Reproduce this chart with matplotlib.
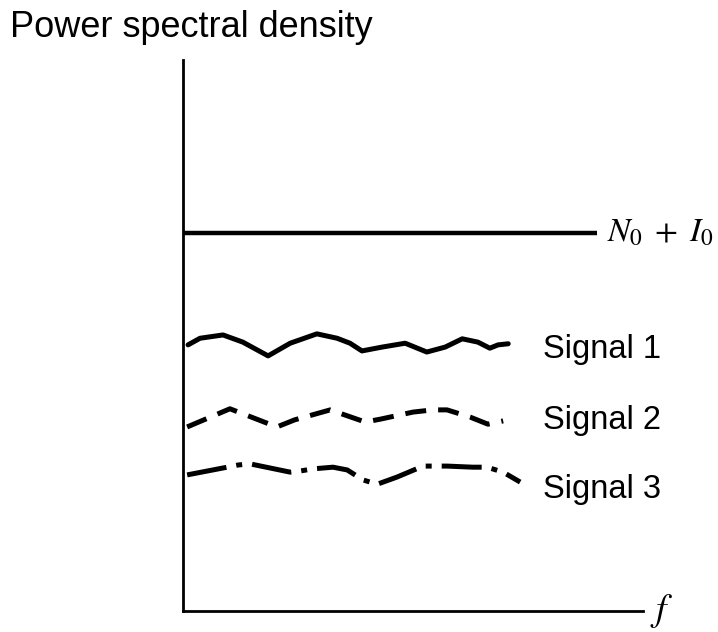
import matplotlib
matplotlib.use("Agg")
import matplotlib.pyplot as plt

# Data (arbitrary units: f in 0..100, PSD in 0..100)
noise_level = 68.6
noise_f = [0.0, 90.0]

sig1_f = [1.1, 3.7, 8.7, 13.0, 18.5, 23.3, 29.1, 33.5, 36.3, 38.9, 43.3, 48.3, 53.0, 57.0, 60.7, 64.1, 66.7, 68.5, 70.7]
sig1_p = [48.3, 49.5, 50.1, 48.8, 46.3, 48.6, 50.3, 49.5, 48.6, 47.2, 47.9, 48.6, 47.0, 47.9, 49.4, 48.8, 47.7, 48.3, 48.5]

sig2_f = [0.9, 10.2, 20.4, 24.3, 32.0, 39.6, 42.8, 50.0, 54.3, 57.4, 62.4, 66.3, 69.6]
sig2_p = [33.4, 36.7, 33.4, 34.7, 36.5, 34.3, 34.8, 36.1, 36.5, 36.5, 35.2, 33.9, 34.5]

sig3_f = [0.9, 9.6, 12.0, 14.6, 23.3, 25.4, 28.3, 32.6, 35.7, 39.1, 42.2, 46.5, 52.2, 57.4, 63.0, 66.1, 69.6, 73.3]
sig3_p = [24.7, 26.1, 26.5, 26.7, 25.2, 25.4, 25.8, 26.1, 25.6, 23.8, 23.0, 24.3, 26.3, 26.3, 26.1, 26.1, 25.2, 23.4]

labels = ["Signal 1", "Signal 2", "Signal 3"]
label_y = [47.5, 34.5, 22.0]

plt.rcParams['font.family'] = ['Liberation Sans', 'DejaVu Sans']
plt.rcParams['mathtext.fontset'] = 'stix'

fig = plt.figure(figsize=(7.18, 6.32), dpi=100)
ax = fig.add_axes([183/718, 21/632, 460/718, 551/632])
ax.set_xlim(0, 100)
ax.set_ylim(0, 100)
for s in ['top', 'right']:
    ax.spines[s].set_visible(False)
ax.spines['left'].set_linewidth(2.0)
ax.spines['bottom'].set_linewidth(2.0)
ax.set_xticks([])
ax.set_yticks([])

ax.plot(noise_f, [noise_level, noise_level], color='black', lw=3.2, solid_capstyle='butt')
ax.plot(sig1_f, sig1_p, color='black', lw=3.6, solid_joinstyle='round', solid_capstyle='round')
ax.plot(sig2_f, sig2_p, color='black', lw=3.6, dashes=(4.2, 2.4))
ax.plot(sig3_f, sig3_p, color='black', lw=3.6, dashes=(8, 2, 1.2, 2))

ax.text(92.2, noise_level, r'$N_0\;+\;I_0$', fontsize=24, va='center', ha='left')
for lab, y in zip(labels, label_y):
    ax.text(78.3, y, lab, fontsize=23.5, va='center', ha='left')
ax.text(101.5, 0, r'$f$', fontsize=27, va='center', ha='left', clip_on=False)

fig.text(10/718, 1 - 37/632, 'Power spectral density', fontsize=26, va='baseline', ha='left')

fig.savefig('out.png', dpi=100)
